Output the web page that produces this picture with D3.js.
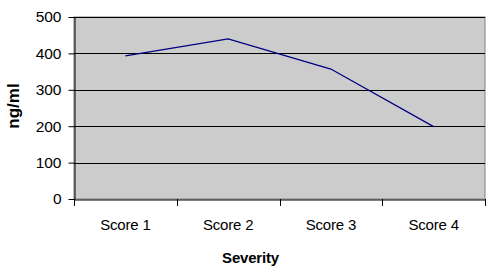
<!DOCTYPE html>
<html><head><meta charset="utf-8">
<script src="https://cdn.jsdelivr.net/npm/d3@7"></script>
<style>body{margin:0;background:#fff}svg{display:block}text{font-family:"Liberation Sans",Arial,sans-serif}</style>
</head><body>
<script>
const categories = ["Score 1","Score 2","Score 3","Score 4"];
const values = [393, 440, 357, 199];
const yTicks = [0,100,200,300,400,500];

const W=489,H=272;
const m={l:74,r:4,t:17,b:73};
const svg=d3.select("body").append("svg").attr("width",W).attr("height",H);
const x=d3.scaleBand().domain(categories).range([m.l,W-m.r]);
const y=d3.scaleLinear().domain([0,500]).range([H-m.b,m.t]);

svg.append("rect").attr("x",m.l).attr("y",m.t).attr("width",W-m.r-m.l).attr("height",H-m.b-m.t)
  .attr("fill","#cccccc").attr("stroke","#808080").attr("stroke-width",1);

svg.append("g").selectAll("line").data(yTicks.filter(d=>d>0)).join("line")
  .attr("x1",m.l).attr("x2",W-m.r).attr("y1",d=>Math.round(y(d))+0.5).attr("y2",d=>Math.round(y(d))+0.5)
  .attr("stroke","#000").attr("stroke-width",1);

const ya=svg.append("g").attr("transform",`translate(${m.l+0.5},0)`)
  .call(d3.axisLeft(y).tickValues(yTicks).tickSize(6).tickPadding(7).tickSizeOuter(0));
ya.select(".domain").attr("stroke","#000");
ya.selectAll("text").attr("font-size",15.5).attr("fill","#000").attr("font-family","Liberation Sans, Arial, sans-serif");

const xa=svg.append("g").attr("transform",`translate(0,${H-m.b+0.5})`)
  .call(d3.axisBottom(x).tickSize(0).tickPadding(20));
xa.select(".domain").attr("stroke","#000");
xa.selectAll("text").attr("font-size",15).attr("fill","#000").attr("letter-spacing","-0.2").attr("font-family","Liberation Sans, Arial, sans-serif");
const edges=categories.map(c=>x(c)).concat([x(categories[categories.length-1])+x.bandwidth()]);
svg.append("g").selectAll("line").data(edges).join("line")
  .attr("x1",d=>Math.round(d)+0.5).attr("x2",d=>Math.round(d)+0.5)
  .attr("y1",H-m.b).attr("y2",H-m.b+7).attr("stroke","#000");

const line=d3.line().x((d,i)=>x(categories[i])+x.bandwidth()/2).y(d=>y(d));
svg.append("path").datum(values).attr("d",line).attr("fill","none").attr("stroke","#000080").attr("stroke-width",1.3);

svg.append("text").attr("x",250.5).attr("y",263).attr("text-anchor","middle")
  .attr("font-size",15).attr("font-weight","bold").attr("letter-spacing","-0.2").text("Severity");
svg.append("text").attr("transform",`translate(19,106) rotate(-90)`).attr("text-anchor","middle")
  .attr("font-size",17).attr("font-weight","bold").text("ng/ml");
</script>
</body></html>
